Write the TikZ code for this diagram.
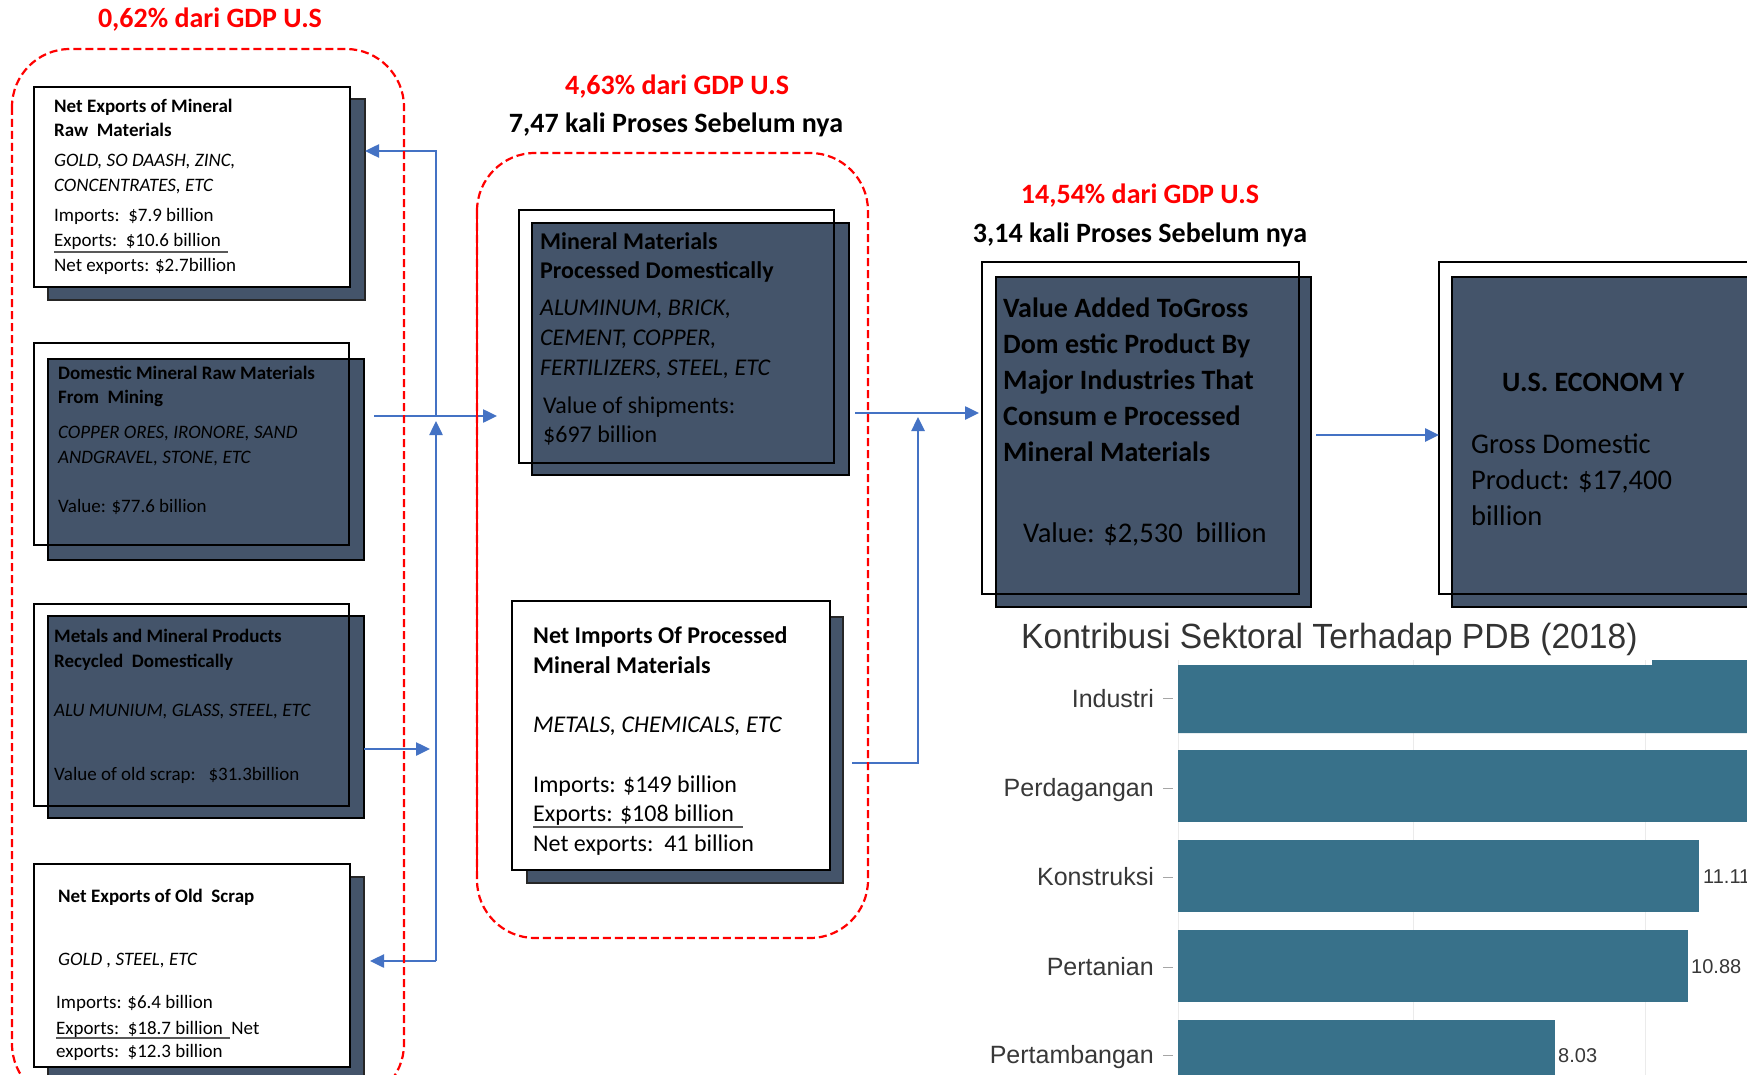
\documentclass[tikz,border=0pt]{standalone}
\usepackage{fontspec}
\setmainfont{Carlito}
\newfontfamily\chartfont{Liberation Sans}
\newfontfamily\charttitle[FakeStretch=0.96]{Liberation Sans}
\usetikzlibrary{arrows.meta}

\definecolor{slate}{HTML}{44546A}
\definecolor{flowblue}{HTML}{4472C4}
\definecolor{barteal}{HTML}{38718A}
\definecolor{titlegray}{HTML}{333333}
\definecolor{labelgray}{HTML}{383838}

\newcommand{\pxsize}[1]{\fontsize{#1}{#1}\selectfont}

\begin{document}
\begin{tikzpicture}[x=1pt,y=-1pt,
  card/.style={anchor=north west, inner sep=0pt, outer sep=0pt, line width=2pt, draw=black},
  slatecard/.style={card, fill=slate},
  whitecard/.style={card, fill=white},
  shade/.style={card, fill=slate, draw=black!85, line width=1.5pt},
  txt/.style={anchor=base west, inner sep=0pt},
  lefthd/.style={txt, font=\pxsize{19}\bfseries},
  leftit/.style={txt, font=\pxsize{19}\itshape},
  leftrg/.style={txt, font=\pxsize{19}},
  midhd/.style={txt, font=\pxsize{24}\bfseries},
  midit/.style={txt, font=\pxsize{24}\itshape},
  midrg/.style={txt, font=\pxsize{24}},
  bighd/.style={txt, font=\pxsize{28}\bfseries},
  bigrg/.style={txt, font=\pxsize{28.5}},
  toplabel/.style={anchor=base, inner sep=0pt, font=\pxsize{28}\bfseries},
  underrule/.style={draw=black!65, line width=2.8pt},
  flow/.style={draw=flowblue, line width=2.5pt, -{Triangle[length=14pt,width=13pt]}},
  zone/.style={draw=red, line width=2.2pt, dash pattern=on 8pt off 4pt, rounded corners=58pt},
  zonesolid/.style={draw=red, line width=2.2pt},
  axislabel/.style={anchor=base east, inner sep=0pt, font=\chartfont\pxsize{25}, text=labelgray},
  barvalue/.style={anchor=base west, inner sep=0pt, font=\chartfont\pxsize{20}, text=labelgray},
  tick/.style={draw=black!35, line width=1pt},
  grid/.style={draw=black!8, line width=1pt},
  bar/.style={fill=barteal}
]
\useasboundingbox (0,0) rectangle (1747,1075);
\clip (0,0) rectangle (1747,1075);
\fill[white] (0,0) rectangle (1747,1075);

% ---------- left column: raw material sources ----------
\node[shade, minimum width=317pt, minimum height=201pt] (b1s) at (48,99) {};
\node[whitecard, minimum width=316pt, minimum height=200pt] (b1) at (34,87) {};

\node[slatecard, minimum width=316pt, minimum height=201pt] (b2) at (48,359) {};
\node[card, minimum width=315pt, minimum height=202pt] (b2f) at (34,343) {};

\node[slatecard, minimum width=316pt, minimum height=202pt] (b3) at (48,616) {};
\node[card, minimum width=315pt, minimum height=202pt] (b3f) at (34,604) {};

\node[shade, minimum width=316pt, minimum height=230pt] (b4s) at (48,877) {};
\node[whitecard, minimum width=316pt, minimum height=203pt] (b4) at (34,864) {};

\node[lefthd] (b1l1) at (54,113) {Net Exports of Mineral};
\node[lefthd] (b1l2) at (54,137) {Raw\ \ Materials};
\node[leftit] (b1l3) at (54,167) {GOLD, SO DAASH, ZINC,};
\node[leftit] (b1l4) at (54,192) {CONCENTRATES, ETC};
\node[leftrg] (b1l5) at (54,222) {Imports:\ \ \$7.9 billion};
\node[leftrg] (b1l6) at (54,247) {Exports:\ \ \$10.6 billion};
\node[leftrg] (b1l7) at (54,272) {Net exports: \$2.7billion};
\draw[underrule] (54,252) -- (228,252);

\node[lefthd] (b2l1) at (58,379) {Domestic Mineral Raw Materials};
\node[lefthd] (b2l2) at (58,403) {From\ \ Mining};
\node[leftit] (b2l3) at (58,438) {COPPER ORES, IRONORE, SAND};
\node[leftit] (b2l4) at (58,463) {ANDGRAVEL, STONE, ETC};
\node[leftrg] (b2l5) at (58,512) {Value: \$77.6 billion};

\node[lefthd] (b3l1) at (54,642) {Metals and Mineral Products};
\node[lefthd] (b3l2) at (54,667) {Recycled\ \ Domestically};
\node[leftit] (b3l3) at (54,716) {ALU MUNIUM, GLASS, STEEL, ETC};
\node[leftrg] (b3l4) at (54,780) {Value of old scrap:\ \ \ \$31.3billion};

\node[lefthd] (b4l1) at (58,902) {Net Exports of Old\ \ Scrap};
\node[leftit] (b4l2) at (58,965) {GOLD , STEEL, ETC};
\node[leftrg] (b4l3) at (56,1008) {Imports: \$6.4 billion};
\node[leftrg] (b4l4) at (56,1034) {Exports:\ \ \$18.7 billion\ \ Net};
\node[leftrg] (b4l5) at (56,1057) {exports:\ \ \$12.3 billion};
\draw[underrule] (56,1038) -- (230,1038);

% ---------- middle column: processed materials ----------
\node[slatecard, minimum width=317pt, minimum height=252pt] (m1) at (532,223) {};
\node[card, minimum width=315pt, minimum height=253pt] (m1f) at (519,210) {};

\node[shade, minimum width=316pt, minimum height=266pt] (m2s) at (527,617) {};
\node[whitecard, minimum width=318pt, minimum height=269pt] (m2) at (512,601) {};

\node[midhd] (m1l1) at (540,250) {Mineral Materials};
\node[midhd] (m1l2) at (540,279) {Processed Domestically};
\node[midit] (m1l3) at (540,315) {ALUMINUM, BRICK,};
\node[midit] (m1l4) at (540,345) {CEMENT, COPPER,};
\node[midit] (m1l5) at (540,375) {FERTILIZERS, STEEL, ETC};
\node[midrg] (m1l6) at (543,413) {Value of shipments:};
\node[midrg] (m1l7) at (543,442) {\$697 billion};

\node[midhd] (m2l1) at (533,643) {Net Imports Of Processed};
\node[midhd] (m2l2) at (533,673) {Mineral Materials};
\node[midit] (m2l3) at (533,732) {METALS, CHEMICALS, ETC};
\node[midrg] (m2l4) at (533,792) {Imports: \$149 billion};
\node[midrg] (m2l5) at (533,821) {Exports: \$108 billion};
\node[midrg] (m2l6) at (533,851) {Net exports:\ \ 41 billion};
\draw[underrule] (533,827) -- (743,827);

% ---------- right column: value added and economy ----------
\node[slatecard, minimum width=315pt, minimum height=330pt] (r1) at (996,277) {};
\node[card, minimum width=317pt, minimum height=332pt] (r1f) at (982,262) {};

\node[slatecard, minimum width=400pt, minimum height=330pt] (r2) at (1452,277) {};
\node[card, minimum width=400pt, minimum height=332pt] (r2f) at (1439,262) {};

\node[bighd] (r1l1) at (1003,317) {Value Added ToGross};
\node[bighd] (r1l2) at (1003,353) {Dom estic Product By};
\node[bighd] (r1l3) at (1003,389) {Major Industries That};
\node[bighd] (r1l4) at (1003,425) {Consum e Processed};
\node[bighd] (r1l5) at (1003,461) {Mineral Materials};
\node[bigrg] (r1l6) at (1023,542) {Value: \$2,530\ \ billion};

\node[bighd] (r2l1) at (1502,391) {U.S. ECONOM Y};
\node[bigrg] (r2l2) at (1471,453) {Gross Domestic};
\node[bigrg] (r2l3) at (1471,489) {Product: \$17,400};
\node[bigrg] (r2l4) at (1471,525) {billion};

% ---------- headings above the groups ----------
\node[toplabel, text=red] (h1) at (210,28) {0,62\% dari GDP U.S};
\node[toplabel, text=red] (h2) at (677,95) {4,63\% dari GDP U.S};
\node[toplabel] (h3) at (676,133) {7,47 kali Proses Sebelum nya};
\node[toplabel, text=red] (h4) at (1140,204) {14,54\% dari GDP U.S};
\node[toplabel] (h5) at (1140,243) {3,14 kali Proses Sebelum nya};

% ---------- flow connectors ----------
\coordinate (jA) at (436,416);
\coordinate (jTop) at (436,151);
\coordinate (jBot) at (436,961);
\coordinate (jC) at (436,749);
\coordinate (jD) at (918,413);
\coordinate (jE) at (918,763);
\coordinate (jF) at (1316,435);

\draw[flow, shorten <=10pt, shorten >=22pt] (b2.east |- jA) -- (m1f.west |- jA);
\draw[flow] (jA) -- (jTop) -- (b1s.east |- jTop);
\draw[flow, shorten >=5pt] (jBot) -- (jA);
\draw[flow, shorten >=6pt] (jBot) -- (b4s.east |- jBot);
\draw[flow, shorten >=6pt] (b3.east |- jC) -- (jC);

\draw[flow, shorten <=6pt, shorten >=3pt] (m1.east |- jD) -- (r1f.west |- jD);
\draw[flow, shorten <=9pt, shorten >=4pt] (m2s.east |- jE) -- (jE) -- (jD);

\draw[flow, shorten <=5pt] (r1.east |- jF) -- (r2f.west |- jF);

% ---------- dashed group outlines ----------
\draw[zone] (12,49) rectangle (404,1102);
\draw[zone] (477,153) rectangle (868,938);
\draw[zonesolid] (477,211) -- (477,878);

% ---------- sector contribution chart ----------
\draw[grid] (1178,660) -- (1178,1075);
\draw[grid] (1413,660) -- (1413,1075);
\draw[grid] (1645,660) -- (1645,1075);

\fill[bar] (1178,665) -| (1652,660) -| (1790,733) -| cycle;
\fill[bar] (1178,750) rectangle (1790,822);
\fill[bar] (1178,840) rectangle (1699,912);
\fill[bar] (1178,930) rectangle (1688,1002);
\fill[bar] (1178,1020) rectangle (1555,1110);

\node[anchor=base west, inner sep=0pt, font=\charttitle\pxsize{35}, text=titlegray] (ctitle) at (1021,648) {Kontribusi Sektoral Terhadap PDB (2018)};

\node[axislabel] (c1) at (1154,707) {Industri};
\node[axislabel] (c2) at (1154,796) {Perdagangan};
\node[axislabel] (c3) at (1154,885) {Konstruksi};
\node[axislabel] (c4) at (1154,975) {Pertanian};
\node[axislabel] (c5) at (1154,1063) {Pertambangan};

\foreach \yy in {698,788,877,967,1055} \draw[tick] (1163,\yy) -- (1173,\yy);

\node[barvalue] (v3) at (1703,883) {11.11};
\node[barvalue] (v4) at (1691,973) {10.88};
\node[barvalue] (v5) at (1558,1062) {8.03};
\end{tikzpicture}
\end{document}
